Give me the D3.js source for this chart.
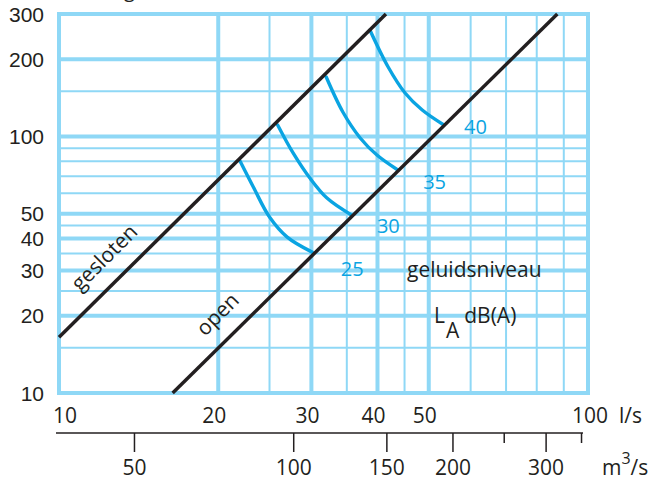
<!DOCTYPE html>
<html><head><meta charset="utf-8">
<script src="https://cdn.jsdelivr.net/npm/d3@7"></script>
<style>
html,body{margin:0;padding:0;background:#fff;}
svg{display:block;font-family:"Open Sans",sans-serif;}
</style></head>
<body><svg id="c" width="666" height="481"></svg>
<script>
// ---- data ----
const flowMajor = [10, 20, 30, 40, 50, 100];          // l/s, thick gridlines + labels
const flowMinor = [25, 35, 45, 60, 70, 80, 90];       // l/s, thin gridlines
const presMajor = [10, 20, 30, 40, 50, 100, 200, 300];// Pa, thick gridlines + labels
const presMinor = [15, 25, 35, 45, 60, 70, 80, 90, 150];
const m3Major = [50, 100, 150, 200, 300];             // m3/h secondary axis
const m3Minor = [250, 350];
const gesloten = [[10, 16.5], [41.5, 300]];
const openLine = [[16.4, 10], [87.5, 300]];
const curve25 = [[22.0, 80], [23.3, 63.5], [25.0, 48.5], [27.0, 40.5], [30.1, 35.4]];
const curve30 = [[25.9, 110.8], [27.7, 86.2], [29.8, 68.8], [32.1, 57.5], [35.7, 49.4]];
const curve35 = [[32.0, 170.4], [34.4, 124.5], [37.1, 98.6], [39.9, 84.6], [43.7, 74.0]];
const curve40 = [[38.7, 259.8], [41.9, 186.4], [45.1, 147.6], [48.6, 126.7], [53.4, 110.8]];
const levelNames = ["25", "30", "35", "40"];
const levelLabelAt = [[34.1, 28.6], [39.9, 42.0], [48.8, 62.4], [58.3, 102]];

// ---- layout ----
const svg = d3.select("#c");
const x = d3.scaleLog().domain([10, 100]).range([59, 588]);
const y = d3.scaleLog().domain([10, 300]).range([393, 14]);
const x2 = d3.scaleLog().domain([36, 360]).range([59, 588]);
const gridC = "#8fd8f6", blueC = "#0aa4e2", ink = "#231f20";
const fs = 21;

// partial title at very top (cut off in reference)
svg.append("text").attr("x", 124).attr("y", -3).attr("font-size", 20).attr("fill", ink).text("g");

const g = svg.append("g");
// thin gridlines
g.selectAll(".vmin").data(flowMinor).join("line")
  .attr("x1", d => x(d)).attr("x2", d => x(d)).attr("y1", y(300)).attr("y2", y(10))
  .attr("stroke", gridC).attr("stroke-width", 2);
g.selectAll(".hmin").data(presMinor).join("line")
  .attr("y1", d => y(d)).attr("y2", d => y(d)).attr("x1", x(10)).attr("x2", x(100))
  .attr("stroke", gridC).attr("stroke-width", 2);
// thick gridlines
g.selectAll(".vmaj").data(flowMajor).join("line")
  .attr("x1", d => x(d)).attr("x2", d => x(d)).attr("y1", y(300) - 2).attr("y2", y(10) + 2)
  .attr("stroke", gridC).attr("stroke-width", 4);
g.selectAll(".hmaj").data(presMajor).join("line")
  .attr("y1", d => y(d)).attr("y2", d => y(d)).attr("x1", x(10) - 2).attr("x2", x(100) + 2)
  .attr("stroke", gridC).attr("stroke-width", 4);

// blue iso-noise curves
const line = d3.line().x(d => x(d[0])).y(d => y(d[1])).curve(d3.curveCatmullRom.alpha(0.5));
[curve25, curve30, curve35, curve40].forEach(c => {
  g.append("path").attr("d", line(c)).attr("fill", "none")
    .attr("stroke", blueC).attr("stroke-width", 3.4).attr("stroke-linecap", "round");
});
// black damper lines
const straight = d3.line().x(d => x(d[0])).y(d => y(d[1]));
[gesloten, openLine].forEach(l => {
  g.append("path").attr("d", straight(l)).attr("fill", "none")
    .attr("stroke", ink).attr("stroke-width", 3.5);
});

// level labels
g.selectAll(".lvl").data(levelNames).join("text")
  .attr("x", (d, i) => x(levelLabelAt[i][0])).attr("y", (d, i) => y(levelLabelAt[i][1]))
  .attr("font-size", 20).attr("fill", blueC).text(d => d);

// rotated line labels
g.append("text").attr("transform", "translate(80,292) rotate(-45)")
  .attr("font-size", fs).attr("fill", ink).text("gesloten");
g.append("text").attr("transform", "translate(205,337) rotate(-45)")
  .attr("font-size", fs).attr("fill", ink).text("open");

// annotations
g.append("text").attr("x", 407).attr("y", 277).attr("font-size", fs).attr("fill", ink).text("geluidsniveau");
const la = g.append("text").attr("x", 434).attr("y", 323).attr("font-size", fs).attr("fill", ink);
la.append("tspan").text("L");
la.append("tspan").attr("dy", 15).attr("dx", 1).text("A");
la.append("tspan").attr("dy", -15).attr("dx", 5).text("dB(A)");

// y labels
g.selectAll(".yl").data(presMajor).join("text")
  .attr("x", 44).attr("y", d => y(d) + 7.5).attr("text-anchor", "end")
  .attr("font-family", "'Liberation Sans', sans-serif")
  .attr("font-size", fs).attr("fill", ink).text(d => d);
// x labels (l/s)
g.selectAll(".xl").data(flowMajor).join("text")
  .attr("x", d => x(d) + (d === 10 ? 6 : d === 100 ? 2 : -4)).attr("y", 423).attr("text-anchor", "middle")
  .attr("font-size", fs).attr("fill", ink).text(d => d);
g.append("text").attr("x", 619).attr("y", 423).attr("font-size", fs).attr("fill", ink).text("l/s");

// secondary axis (m3)
g.append("line").attr("x1", 56).attr("x2", 583).attr("y1", 433).attr("y2", 433)
  .attr("stroke", ink).attr("stroke-width", 1.5);
g.selectAll(".t2").data(m3Major).join("line")
  .attr("x1", d => x2(d)).attr("x2", d => x2(d)).attr("y1", 433).attr("y2", 452)
  .attr("stroke", ink).attr("stroke-width", 1.5);
g.selectAll(".t2m").data(m3Minor).join("line")
  .attr("x1", d => x2(d)).attr("x2", d => x2(d)).attr("y1", 433).attr("y2", 443)
  .attr("stroke", ink).attr("stroke-width", 1.5);
g.selectAll(".l2").data(m3Major).join("text")
  .attr("x", d => x2(d)).attr("y", 475).attr("text-anchor", "middle")
  .attr("font-size", fs).attr("fill", ink).text(d => d);
const mu = g.append("text").attr("x", 602).attr("y", 475).attr("font-size", fs).attr("fill", ink);
mu.append("tspan").text("m");
mu.append("tspan").attr("dy", -11).attr("font-size", 16).text("3");
mu.append("tspan").attr("dy", 11).text("/s");
</script></body></html>
